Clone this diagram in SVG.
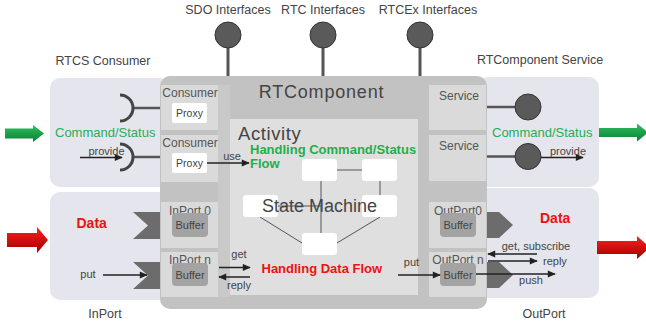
<svg xmlns="http://www.w3.org/2000/svg" width="646" height="323" viewBox="0 0 646 323">
<defs>
<style>
.t{font-family:"Liberation Sans",Arial,sans-serif;fill:#444}
.lbl{font-size:12px;fill:#555}
.sm{font-size:11px;fill:#444}
.panel{fill:#e5e5ed}
.cell{fill:#dadada}
.buf{fill:#a3a3a3}
.wbox{fill:#ffffff}
.ln{stroke:#222;stroke-width:1.5;fill:none}
.sl{stroke:#555;stroke-width:1;fill:none}
.green{fill:#27ae55}
.gb{font-weight:bold;font-size:13px;fill:#1fae4c}
.rb{font-weight:bold;fill:#ee1111}
.lol{fill:#5a5a5a;stroke:#333;stroke-width:1}
.stem{stroke:#555;stroke-width:3}
.port{fill:#6c6c6c}
</style>
<marker id="ah" viewBox="0 0 10 10" refX="9" refY="5" markerWidth="9" markerHeight="8" markerUnits="userSpaceOnUse" orient="auto">
<path d="M0,0.5 L10,5 L0,9.5 Z" fill="#222"/>
</marker>
<linearGradient id="gg" x1="0" y1="0" x2="0" y2="1">
<stop offset="0" stop-color="#2ec060"/>
<stop offset="1" stop-color="#0b7f34"/>
</linearGradient>
<linearGradient id="rg" x1="0" y1="0" x2="0" y2="1">
<stop offset="0" stop-color="#ff2020"/>
<stop offset="1" stop-color="#a00000"/>
</linearGradient>
</defs>

<g id="top-interfaces">
<line class="stem" x1="228" y1="45" x2="228" y2="77"/>
<circle class="lol" cx="228" cy="35" r="13"/>
<line class="stem" x1="323" y1="45" x2="323" y2="77"/>
<circle class="lol" cx="323" cy="35" r="13"/>
<line class="stem" x1="420" y1="45" x2="420" y2="77"/>
<circle class="lol" cx="420" cy="35" r="13"/>
<text class="t" x="228" y="14" font-size="12.5" text-anchor="middle">SDO Interfaces</text>
<text class="t" x="323" y="14" font-size="12.5" text-anchor="middle">RTC Interfaces</text>
<text class="t" x="428" y="14" font-size="12.5" text-anchor="middle">RTCEx Interfaces</text>
</g>

<g id="rtcs-consumer">
<rect class="panel" x="50" y="78" width="120" height="109" rx="10"/>
<text class="t" x="103" y="65" font-size="12.5" text-anchor="middle">RTCS Consumer</text>
<text class="t green" x="55" y="137" font-size="13">Command/Status</text>
<line stroke="#555" stroke-width="2.5" x1="133" y1="108" x2="162" y2="108"/>
<path d="M120,95 A13,13 0 0 1 120,121" fill="none" stroke="#444" stroke-width="3"/>
<line stroke="#555" stroke-width="2.5" x1="133" y1="157" x2="162" y2="157"/>
<path d="M120,144 A13,13 0 0 1 120,170" fill="none" stroke="#444" stroke-width="3"/>
</g>

<g id="inport">
<rect class="panel" x="50" y="192" width="120" height="108" rx="10"/>
<text class="t" x="105" y="318" font-size="12.5" text-anchor="middle">InPort</text>
<text class="t rb" x="76.5" y="228" font-size="14">Data</text>
<polygon class="port" points="133,212 161,212 161,239 133,239 148,225.5"/>
<polygon class="port" points="133,262 161,262 161,289 133,289 148,275.5"/>
<text class="t sm" x="88" y="278" text-anchor="middle">put</text>
</g>

<g id="rtcomponent-service">
<rect class="panel" x="478" y="77" width="121" height="110" rx="10"/>
<text class="t" x="540" y="64" font-size="12.5" text-anchor="middle">RTComponent Service</text>
<text class="t green" x="492" y="136.5" font-size="13">Command/Status</text>
</g>

<g id="outport">
<rect class="panel" x="478" y="188" width="121" height="110" rx="10"/>
<text class="t" x="544" y="318" font-size="12.5" text-anchor="middle">OutPort</text>
<text class="t rb" x="540" y="223" font-size="14">Data</text>
</g>

<g id="rtcomponent">
<rect x="160" y="76" width="327" height="233" rx="10" fill="#c2c2c2"/>
<rect x="218" y="85" width="12" height="212" fill="#c9c9c9"/>
<text class="t" x="321.5" y="98" font-size="18" letter-spacing="0.8" text-anchor="middle" fill="#222">RTComponent</text>
</g>

<g id="consumer-proxy-1">
<rect class="cell" x="161" y="85" width="57" height="45"/>
<text class="t lbl" x="190" y="96.5" text-anchor="middle">Consumer</text>
<rect class="wbox" x="172" y="103" width="35" height="20" rx="2"/>
<text class="t" x="189.5" y="117" font-size="10.5" text-anchor="middle">Proxy</text>
</g>

<g id="consumer-proxy-2">
<rect class="cell" x="161" y="135" width="57" height="47"/>
<text class="t lbl" x="190" y="147" text-anchor="middle">Consumer</text>
<rect class="wbox" x="172" y="153" width="35" height="20" rx="2"/>
<text class="t" x="189.5" y="167" font-size="10.5" text-anchor="middle">Proxy</text>
</g>

<g id="inport-0">
<rect class="cell" x="161" y="202" width="57" height="46"/>
<text class="t lbl" x="190" y="214.5" text-anchor="middle">InPort 0</text>
<rect class="buf" x="172" y="213" width="36" height="24" rx="4"/>
<text class="t sm" x="190" y="229" text-anchor="middle">Buffer</text>
</g>

<g id="inport-n">
<rect class="cell" x="161" y="252" width="57" height="45"/>
<text class="t lbl" x="190" y="263.5" text-anchor="middle">InPort n</text>
<rect class="buf" x="172" y="263" width="36" height="23" rx="4"/>
<text class="t sm" x="190" y="278.5" text-anchor="middle">Buffer</text>
</g>

<g id="service-1">
<rect class="cell" x="429" y="85" width="57" height="45"/>
<text class="t lbl" x="459" y="99.5" text-anchor="middle">Service</text>
</g>

<g id="service-2">
<rect class="cell" x="429" y="135" width="57" height="46"/>
<text class="t lbl" x="459" y="150" text-anchor="middle">Service</text>
</g>

<g id="outport-0">
<rect class="cell" x="429" y="202" width="57" height="46"/>
<text class="t lbl" x="458" y="214.5" text-anchor="middle">OutPort0</text>
<rect class="buf" x="440" y="213" width="36" height="24" rx="4"/>
<text class="t sm" x="458" y="229" text-anchor="middle">Buffer</text>
</g>

<g id="outport-n">
<rect class="cell" x="429" y="252" width="57" height="45"/>
<text class="t lbl" x="458" y="263.5" text-anchor="middle">OutPort n</text>
<rect class="buf" x="440" y="263" width="36" height="23" rx="4"/>
<text class="t sm" x="458" y="278.5" text-anchor="middle">Buffer</text>
</g>

<g id="outport-shapes">
<polygon class="port" points="487,212 499,212 513,225 499,238 487,238"/>
<polygon class="port" points="487,262 499,262 513,275 499,288 487,288"/>
</g>

<g id="service-lollipops">
<line stroke="#555" stroke-width="2.5" x1="487" y1="107" x2="515" y2="107"/>
<circle class="lol" cx="528" cy="107" r="13"/>
<line stroke="#555" stroke-width="2.5" x1="487" y1="156.5" x2="515" y2="156.5"/>
<circle class="lol" cx="528" cy="156.5" r="13"/>
</g>

<g id="activity">
<rect x="230" y="119" width="188" height="176" fill="#dfdfdf"/>
<text class="t" x="238" y="139.5" font-size="18.5" letter-spacing="0.6" fill="#222">Activity</text>
<text class="t gb" x="250" y="153.5">Handling Command/Status</text>
<text class="t gb" x="250" y="168">Flow</text>
<text class="t rb" x="261.5" y="272.5" font-size="13">Handling Data Flow</text>
</g>

<g id="state-machine">
<line class="sl" x1="337" y1="170" x2="362" y2="170"/>
<line class="sl" x1="380" y1="181" x2="380" y2="195"/>
<line class="sl" x1="260" y1="217" x2="302" y2="243"/>
<line class="sl" x1="380" y1="217" x2="337" y2="243"/>
<rect class="wbox" x="302" y="159" width="35" height="22" rx="3"/>
<rect class="wbox" x="362" y="159" width="35" height="22" rx="3"/>
<rect class="wbox" x="243" y="195" width="35" height="22" rx="3"/>
<rect class="wbox" x="362" y="195" width="35" height="22" rx="3"/>
<rect class="wbox" x="302" y="233" width="35" height="22" rx="3"/>
<line class="sl" x1="278" y1="206" x2="321" y2="206"/>
<line class="sl" x1="321" y1="181" x2="321" y2="233"/>
<text class="t" x="319.5" y="212" font-size="18" text-anchor="middle" fill="#222">State Machine</text>
</g>

<g id="big-arrows">
<path d="M5,128.5 H33 V125 L44,133.5 L33,142 V138.5 H5 Z" fill="url(#gg)"/>
<path d="M599,128 H637 V123.5 L648,132.5 L637,141.5 V137 H599 Z" fill="url(#gg)"/>
<path d="M7,233 H37 V227 L48,240 L37,253 V247 H7 Z" fill="url(#rg)"/>
<path d="M597,241 H637 V236 L650,247.5 L637,259 V254 H597 Z" fill="url(#rg)"/>
</g>

<g id="connectors">
<line class="ln" x1="80" y1="157.5" x2="122" y2="157.5" marker-end="url(#ah)"/>
<text class="t sm" x="106.5" y="154.5" text-anchor="middle">provide</text>
<line class="ln" x1="207" y1="163" x2="249" y2="163" marker-end="url(#ah)"/>
<text class="t sm" x="232" y="159.5" text-anchor="middle">use</text>
<line class="ln" x1="103" y1="275" x2="147" y2="275" marker-end="url(#ah)"/>
<line class="ln" x1="219" y1="267.5" x2="250" y2="267.5" marker-end="url(#ah)"/>
<text class="t sm" x="239" y="258" text-anchor="middle">get</text>
<line class="ln" x1="250" y1="277" x2="219" y2="277" marker-end="url(#ah)"/>
<text class="t sm" x="239" y="289" text-anchor="middle">reply</text>
<line class="ln" x1="398" y1="275" x2="440" y2="275" marker-end="url(#ah)"/>
<text class="t sm" x="411.5" y="265.5" text-anchor="middle">put</text>
<line class="ln" x1="476" y1="274" x2="555" y2="274" marker-end="url(#ah)"/>
<text class="t sm" x="531" y="284" text-anchor="middle">push</text>
<line class="ln" x1="537" y1="254" x2="488" y2="254" marker-end="url(#ah)"/>
<text class="t sm" x="536" y="250" text-anchor="middle">get, subscribe</text>
<line class="ln" x1="488" y1="261" x2="537" y2="261" marker-end="url(#ah)"/>
<text class="t sm" x="543" y="264.5">reply</text>
<line class="ln" x1="541" y1="157.5" x2="583" y2="157.5" marker-end="url(#ah)"/>
<text class="t sm" x="568" y="154.5" text-anchor="middle">provide</text>
</g>
</svg>
